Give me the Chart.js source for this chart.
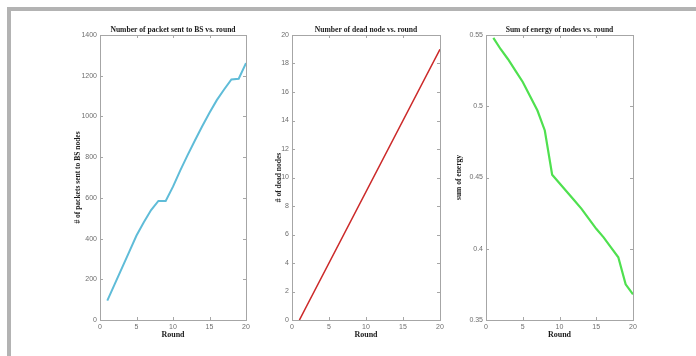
<!DOCTYPE html>
<html>
<head>
<meta charset="utf-8">
<script src="https://cdn.jsdelivr.net/npm/chart.js@4.4.1/dist/chart.umd.min.js"></script>
<style>
  body { margin: 0; background: #fff; }
  #page { position: relative; width: 696px; height: 356px; overflow: hidden; background: #fff; }
  #frame { position: absolute; left: 7px; top: 7px; width: 689px; height: 349px;
           border-top: 4px solid #b3b3b3; border-left: 4px solid #b3b3b3; box-sizing: border-box; }
  canvas { position: absolute; top: 20px; }
</style>
</head>
<body>
<div id="page">
  <div id="frame"></div>
  <canvas id="packets" width="200" height="330" style="left:60px"></canvas>
  <canvas id="dead" width="200" height="330" style="left:252px"></canvas>
  <canvas id="energy" width="200" height="330" style="left:446px"></canvas>
</div>
<script>
/* =====================================
   DATA
======================================== */

const rounds = [1, 2, 3, 4, 5, 6, 7, 8, 9, 10, 11, 12, 13, 14, 15, 16, 17, 18, 19, 20];
const packetsSent = [95, 175, 255, 335, 415, 480, 540, 585, 585, 655, 735, 810, 882, 952, 1018, 1080, 1132, 1182, 1185, 1262];
const deadNodes = [0, 1, 2, 3, 4, 5, 6, 7, 8, 9, 10, 11, 12, 13, 14, 15, 16, 17, 18, 19];
const energySum = [0.548, 0.540, 0.533, 0.525, 0.517, 0.507, 0.497, 0.483, 0.452, 0.446, 0.440, 0.434, 0.428, 0.421, 0.414, 0.408, 0.401, 0.394, 0.375, 0.368];

const titleFont = "'Liberation Serif', serif";
const tickFont = "'Liberation Sans', Arial, sans-serif";

/* =====================================
   MATLAB-like box with inward ticks + title
======================================== */

const boxPlugin = {
  id: 'boxAxes',
  afterDraw(chart, args, opts) {
    const ctx = chart.ctx;
    const a = chart.chartArea;
    const xs = chart.scales.x;
    const ys = chart.scales.y;
    ctx.save();
    ctx.strokeStyle = '#a6a6a6';
    ctx.lineWidth = 1;
    ctx.strokeRect(a.left + 0.5, a.top + 0.5, a.right - a.left, a.bottom - a.top);
    ctx.beginPath();
    xs.ticks.forEach(t => {
      const px = Math.round(xs.getPixelForValue(t.value)) + 0.5;
      ctx.moveTo(px, a.bottom); ctx.lineTo(px, a.bottom - 3);
      ctx.moveTo(px, a.top); ctx.lineTo(px, a.top + 3);
    });
    ys.ticks.forEach(t => {
      const py = Math.round(ys.getPixelForValue(t.value)) + 0.5;
      ctx.moveTo(a.left, py); ctx.lineTo(a.left + 3, py);
      ctx.moveTo(a.right, py); ctx.lineTo(a.right - 3, py);
    });
    ctx.stroke();
    // title centred over the plot box
    ctx.fillStyle = '#1a1a1a';
    ctx.font = "bold 7.6px " + titleFont;
    ctx.textAlign = 'center';
    ctx.textBaseline = 'bottom';
    ctx.fillText(opts.text, (a.left + a.right) / 2, a.top - 1);
    ctx.restore();
  }
};

function makeChart(id, values, color, width, yOpts, yTitle, yTitleOffset, rightPad) {
  return new Chart(document.getElementById(id), {
    type: 'line',
    data: {
      labels: rounds,
      datasets: [{
        data: rounds.map((r, i) => ({ x: r, y: values[i] })),
        borderColor: color,
        borderWidth: width,
        pointRadius: 0,
        tension: 0,
        fill: false
      }]
    },
    options: {
      responsive: false,
      animation: false,
      layout: { padding: { top: 15, right: rightPad, bottom: 0, left: 0 } },
      plugins: {
        legend: { display: false },
        tooltip: { enabled: false },
        boxAxes: { text: yTitle.title }
      },
      scales: {
        x: {
          type: 'linear',
          min: 0, max: 20,
          ticks: { stepSize: 5, color: '#6e6e6e', font: { size: 7, family: tickFont }, padding: 3, maxRotation: 0 },
          grid: { display: false, drawTicks: false },
          border: { display: false },
          title: { display: true, text: 'Round', color: '#1a1a1a',
                   font: { size: 8, weight: 'bold', family: titleFont }, padding: { top: 0, bottom: 10 } },
          afterFit: s => { s.height = 30; }
        },
        y: Object.assign({
          ticks: Object.assign({ color: '#6e6e6e', font: { size: 7, family: tickFont }, padding: 3,
                                 callback: v => String(+v.toFixed(2)) }, yOpts.ticks),
          grid: { display: false, drawTicks: false },
          border: { display: false },
          title: { display: true, text: yTitle.axis, color: '#1a1a1a',
                   font: { size: 7.5, weight: 'bold', family: titleFont }, padding: { top: yTitleOffset, bottom: 0 } },
          afterFit: s => { s.width = 40; }
        }, yOpts.range)
      }
    },
    plugins: [boxPlugin]
  });
}

/* =====================================
   CHARTS
======================================== */

makeChart('packets', packetsSent, '#5fbcd8', 2,
  { range: { min: 0, max: 1400 }, ticks: { stepSize: 200 } },
  { title: 'Number of packet sent to BS vs. round', axis: '# of packets sent to BS nodes' },
  14, 14);

makeChart('dead', deadNodes, '#cc2a2a', 1.6,
  { range: { min: 0, max: 20 }, ticks: { stepSize: 2 } },
  { title: 'Number of dead node vs. round', axis: '# of dead nodes' },
  23, 12);

makeChart('energy', energySum, '#4fe04f', 2.2,
  { range: { min: 0.35, max: 0.55 }, ticks: { stepSize: 0.05 } },
  { title: 'Sum of energy of nodes vs. round', axis: 'sum of energy' },
  9, 13);
</script>
</body>
</html>
